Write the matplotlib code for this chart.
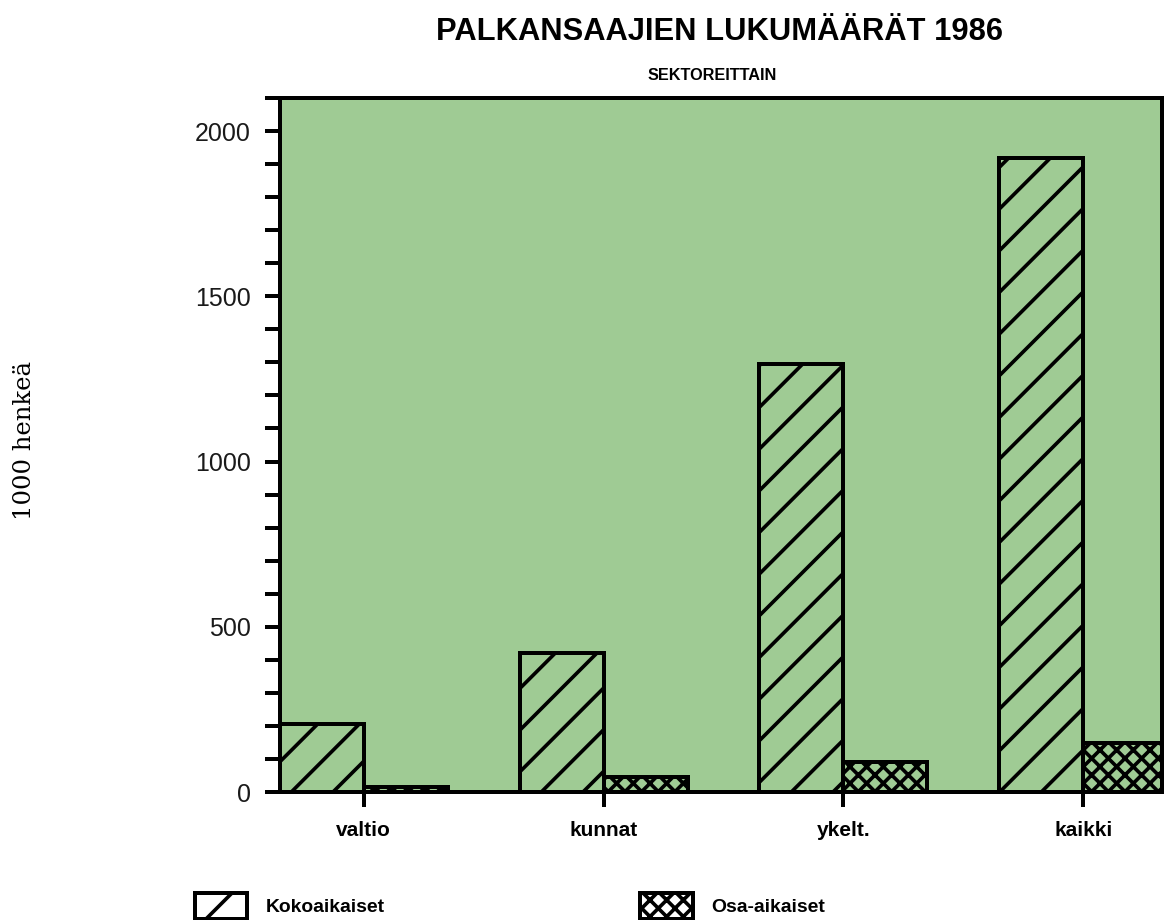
import matplotlib
matplotlib.use('Agg')
import matplotlib.pyplot as plt
import numpy as np
from matplotlib.patches import Patch
from matplotlib.ticker import MultipleLocator, FixedLocator

categories = ['valtio', 'kunnat', 'ykelt.', 'kaikki']
kokoaikaiset = [205, 420, 1295, 1918]
osa_aikaiset = [15, 45, 90, 148]
series_labels = ['Kokoaikaiset', 'Osa-aikaiset']
yticks = [0, 500, 1000, 1500, 2000]

GREEN = '#9fcb94'
BOLDFONT = ['Liberation Sans', 'DejaVu Sans']
plt.rcParams['hatch.linewidth'] = 1.05

fig = plt.figure(figsize=(4.656, 3.68), dpi=250)
ax = fig.add_axes([0.2405, 0.1391, 0.758, 0.7544])
ax.set_facecolor(GREEN)

x = np.arange(len(categories))
w = 0.35
ax.bar(x - w / 2, kokoaikaiset, w, facecolor='none', edgecolor='black',
       hatch='//', linewidth=1.15, zorder=2)
ax.bar(x + w / 2, osa_aikaiset, w, facecolor='none', edgecolor='black',
       hatch='xxxxx', linewidth=1.15, zorder=2)

ax.set_xlim(-0.35, 3.33)
ax.set_ylim(0, 2100)

ax.yaxis.set_major_locator(FixedLocator(yticks))
ax.yaxis.set_minor_locator(MultipleLocator(100))
ax.set_yticklabels([str(v) for v in yticks], fontfamily='Liberation Sans',
                   fontsize=7.2, color='#1a1a1a')
ax.tick_params(axis='y', which='both', direction='out', length=4.3, width=1.15,
               pad=4)

ax.set_xticks(x)
ax.set_xticklabels(categories, fontfamily=BOLDFONT, fontweight='bold',
                   fontsize=6.0)
ax.tick_params(axis='x', direction='out', length=4.3, width=1.15, pad=4)

for s in ax.spines.values():
    s.set_linewidth(1.15)
    s.set_color('black')

# Titles
fig.text(720 / 1164, 1 - 32 / 920, 'PALKANSAAJIEN LUKUMÄÄRÄT 1986',
         ha='center', va='center', fontsize=8.9, fontfamily=BOLDFONT,
         fontweight='bold')
fig.text(712 / 1164, 1 - 75 / 920, 'SEKTOREITTAIN', ha='center', va='center',
         fontsize=4.7, fontfamily=BOLDFONT, fontweight='bold')
fig.text(25 / 1164, 1 - 440 / 920, '1000 henkeä', rotation=90, ha='center',
         va='center', fontsize=7.0, fontfamily='DejaVu Serif')

# Legends
hatches = ['//', 'xxxxx']
anchors = [(195 / 1164, 1 - 893 / 920), (640 / 1164, 1 - 893 / 920)]
for lab, h, anc in zip(series_labels, hatches, anchors):
    handle = Patch(facecolor='white', edgecolor='black', hatch=h,
                   linewidth=1.15, label=lab)
    fig.legend(handles=[handle], loc='upper left', bbox_to_anchor=anc,
               frameon=False, borderpad=0, borderaxespad=0,
               handlelength=2.7, handleheight=1.7, handletextpad=0.95,
               prop={'family': BOLDFONT, 'weight': 'bold', 'size': 5.6})

fig.savefig('out.png', dpi=250)
